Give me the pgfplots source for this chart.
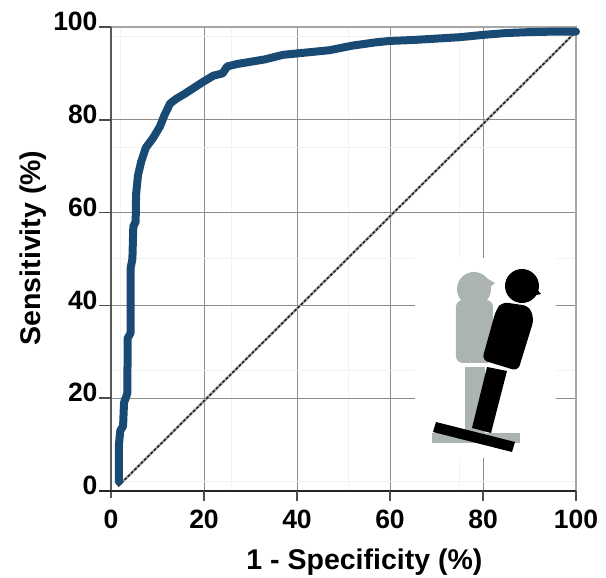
\documentclass[border=0pt]{standalone}
\usepackage{fontspec}
\setmainfont{Liberation Sans}
\usepackage{pgfplots}
\pgfplotsset{compat=1.18}
\definecolor{curve}{RGB}{24,74,116}
\definecolor{pgray}{RGB}{172,180,175}
\begin{document}
\begin{tikzpicture}[x=1bp,y=1bp]
\path[use as bounding box] (-111bp,-87bp) rectangle (495bp,491bp);
\begin{axis}[
  at={(0bp,0bp)},anchor=origin,
  scale only axis,width=465bp,height=464bp,
  xmin=0,xmax=100,ymin=0,ymax=100,
  xtick={0,20,...,100},ytick={0,20,...,100},
  minor xtick={2,26,51,75},minor ytick={2,26,50,74,98},
  grid=both,
  major grid style={draw=black!45,line width=0.9bp},
  minor grid style={draw=black!5,line width=1bp},
  axis line style={draw=none},
  tick style={draw=none},
  /pgf/number format/assume math mode=true,
  ticklabel style={font=\fontsize{26.5bp}{28bp}\selectfont\bfseries},
  xticklabel style={yshift=-15bp},
  yticklabel style={xshift=-10bp,yshift=5.5bp},
  xlabel={1 - Specificity (\%)},ylabel={Sensitivity (\%)},
  label style={font=\fontsize{28.5bp}{30bp}\selectfont\bfseries},
  xlabel style={at={(axis description cs:0.545,-0.153)},anchor=center},
  ylabel style={at={(axis description cs:-0.1677,0.5237)},anchor=center},
  clip=false,
]
\addplot[draw=black!35,line width=1.8bp] coordinates {(0,100)(100,100)(100,0)};
\addplot[draw=black!65,line width=2.6bp] coordinates {(0,-1.6)(0,100)};
\addplot[draw=black!85,line width=1.7bp] coordinates {(-2.6,0)(100,0)};
\addplot[draw=black!70,line width=1.6bp] coordinates {(-2.6,20)(0,20)};
\addplot[draw=black!70,line width=1.6bp] coordinates {(-2.6,40)(0,40)};
\addplot[draw=black!70,line width=1.6bp] coordinates {(-2.6,60)(0,60)};
\addplot[draw=black!70,line width=1.6bp] coordinates {(-2.6,80)(0,80)};
\addplot[draw=black!70,line width=1.6bp] coordinates {(-2.6,100)(0,100)};
\addplot[draw=black!70,line width=1.4bp] coordinates {(20,0)(20,-2.2)};
\addplot[draw=black!70,line width=1.4bp] coordinates {(40,0)(40,-2.2)};
\addplot[draw=black!70,line width=1.4bp] coordinates {(60,0)(60,-2.2)};
\addplot[draw=black!70,line width=1.4bp] coordinates {(80,0)(80,-2.2)};
\addplot[draw=black!70,line width=1.4bp] coordinates {(100,0)(100,-2.2)};
\addplot[draw=black!30,line width=2.6bp] coordinates {(1.5,1)(100,99)};
\addplot[draw=black!85,line width=1.6bp,dash pattern=on 3bp off 1.6bp] coordinates {(1.5,1)(100,99)};
\addplot[draw=curve,line width=8bp,line join=round,line cap=round] coordinates {
(1.7,2)(1.7,10)(2.0,13)(2.6,14)(2.8,19)(3.5,21)(3.6,33)(4.2,34)(4.2,48)(4.6,50)(4.8,57)(5.3,58)(5.4,64)(5.8,68)(6.5,71)(7.5,74)(9,76)(10.5,78.5)(11.5,81)(12.7,83.5)(14,84.5)(16,85.7)(18,87)(20,88.3)(22,89.5)(24,90)(25,91.5)(27,92)(30,92.5)(33,93)(37,94)(42,94.5)(47,95)(52,96)(57,96.7)(60,97)(65,97.2)(70,97.5)(75,97.8)(80,98.3)(85,98.7)(90,98.9)(95,99)(100,99)};
\end{axis}
% pictogram, in reference pixels: (px-111, 491-py)
\begin{scope}[shift={(-111bp,491bp)},x=1bp,y=-1bp]
\fill[white] (415,258) rectangle (556,458);
\fill[pgray] (474,289) circle (17);
\fill[pgray] (488,279) -- (495,283) -- (488,289) -- cycle;
\fill[pgray,rounded corners=7pt] (456,300) rectangle (493,363);
\fill[pgray] (465,367) rectangle (485,435);
\fill[pgray] (432,433) rectangle (520,443);
\fill[black] (522,286) circle (17);
\fill[black] (534,286) -- (541,294) -- (532,296) -- cycle;
\fill[black,rounded corners=6pt] (502,302) -- (529,306) -- (534,319) -- (518,371) -- (482,360) -- (496,310) -- cycle;
\fill[black] (487,367) -- (507,371) -- (491,433) -- (472,428) -- cycle;
\fill[black] (436,422) -- (515,442) -- (512,452) -- (433,432) -- cycle;
\end{scope}
\end{tikzpicture}
\end{document}
